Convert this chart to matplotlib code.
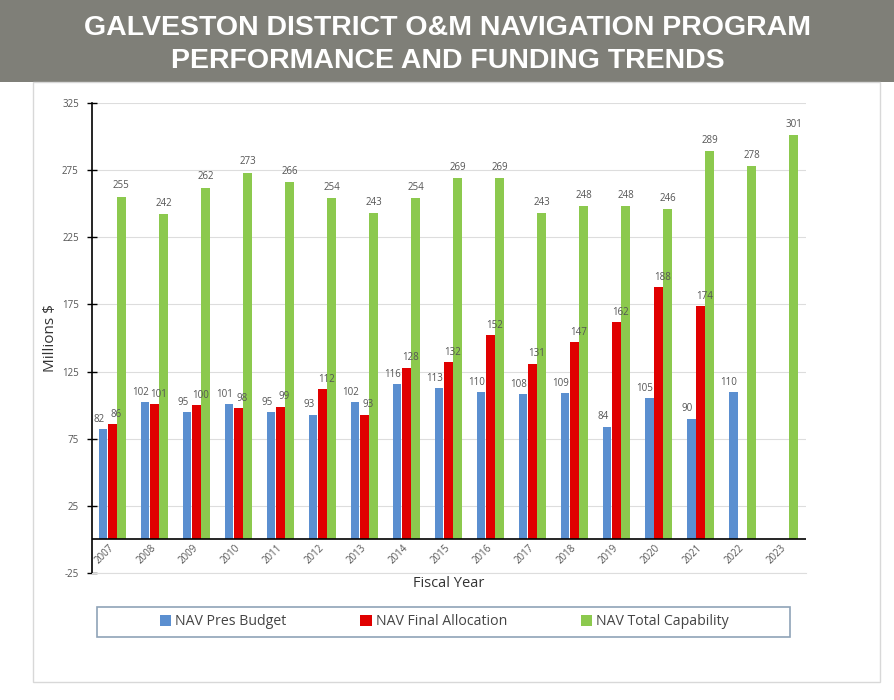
import matplotlib
matplotlib.use("Agg")
import matplotlib.pyplot as plt
import numpy as np
from matplotlib.patches import Rectangle

years = ["2007", "2008", "2009", "2010", "2011", "2012", "2013", "2014", "2015",
         "2016", "2017", "2018", "2019", "2020", "2021", "2022", "2023"]
pres_budget = [82, 102, 95, 101, 95, 93, 102, 116, 113, 110, 108, 109, 84, 105, 90, 110, None]
final_alloc = [86, 101, 100, 98, 99, 112, 93, 128, 132, 152, 131, 147, 162, 188, 174, None, None]
total_cap = [255, 242, 262, 273, 266, 254, 243, 254, 269, 269, 243, 248, 248, 246, 289, 278, 301]
yticks = [-25, 25, 75, 125, 175, 225, 275, 325]

c_blue = "#5b8fd0"
c_red = "#e00000"
c_green = "#8cc94e"
txt_gray = "#555555"

fig = plt.figure(figsize=(8.95, 7.0), dpi=100)
fig.patch.set_facecolor("white")

# header band
fig.add_artist(Rectangle((0, 0.883), 1, 0.117, transform=fig.transFigure,
                         facecolor="#7f7f78", edgecolor="none"))
tfont = dict(color="white", fontsize=20.5, fontweight="bold",
             family=["Liberation Sans Narrow", "Liberation Sans", "DejaVu Sans"])
fig.text(0.5, 0.960, "GALVESTON DISTRICT O&M NAVIGATION PROGRAM", ha="center", va="center", **tfont)
fig.text(0.5, 0.913, "PERFORMANCE AND FUNDING TRENDS", ha="center", va="center", **tfont)

# outer chart frame
fig.add_artist(Rectangle((0.037, 0.026), 0.946, 0.857, transform=fig.transFigure,
                         facecolor="none", edgecolor="#d8d8d8", lw=1))

ax = fig.add_axes([0.1028, 0.1814, 0.798, 0.6714])
x = np.arange(len(years))
w = 0.21
offs = [-0.24, -0.02, 0.20]

def vals(v):
    return [np.nan if a is None else a for a in v]

ax.bar(x + offs[0], vals(pres_budget), w, color=c_blue, label="NAV Pres Budget", zorder=3)
ax.bar(x + offs[1], vals(final_alloc), w, color=c_red, label="NAV Final Allocation", zorder=3)
ax.bar(x + offs[2], vals(total_cap), w, color=c_green, label="NAV Total Capability", zorder=3)

lblfont = dict(fontsize=7, color=txt_gray, family=["Open Sans", "DejaVu Sans"])
for i in range(len(years)):
    if pres_budget[i] is not None:
        ax.annotate(str(pres_budget[i]), (x[i] + offs[0], pres_budget[i]),
                    xytext=(-3, 3), textcoords="offset points", ha="center", va="bottom", **lblfont)
    if final_alloc[i] is not None:
        ax.annotate(str(final_alloc[i]), (x[i] + offs[1], final_alloc[i]),
                    xytext=(3, 3), textcoords="offset points", ha="center", va="bottom", **lblfont)
    ax.annotate(str(total_cap[i]), (x[i] + offs[2], total_cap[i]),
                xytext=(0, 4), textcoords="offset points", ha="center", va="bottom", **lblfont)

ax.set_xlim(-0.5, len(years) - 0.5)
ax.set_ylim(-25, 325)
ax.set_yticks(yticks)
ax.set_yticklabels([str(t) for t in yticks], fontsize=7, color=txt_gray,
                   family=["Open Sans", "DejaVu Sans"])
ax.tick_params(axis="y", direction="inout", length=7, width=1, pad=6)
ax.set_xticks([])
ax.grid(axis="y", color="#dddddd", lw=0.8, zorder=0)
ax.axhline(0, color="black", lw=1.2, zorder=4)
for s in ["top", "right"]:
    ax.spines[s].set_visible(False)
ax.spines["bottom"].set_color("#dddddd")
ax.spines["left"].set_color("black")
ax.spines["left"].set_linewidth(1.2)

for i, y in enumerate(years):
    ax.text(x[i] - 0.2, -11, y, rotation=45, ha="center", va="center", fontsize=7,
            color=txt_gray, family=["Open Sans", "DejaVu Sans"])

ax.set_ylabel("Millions $", fontsize=11, color="#333333", labelpad=3,
              family=["Open Sans", "DejaVu Sans"])
ax.set_xlabel("Fiscal Year", fontsize=10.5, color="#333333", labelpad=2,
              family=["Open Sans", "DejaVu Sans"])

# legend frame drawn separately to match its wide box
fig.add_artist(Rectangle((0.1084, 0.090), 0.7743, 0.0429, transform=fig.transFigure,
                         facecolor="white", edgecolor="#8fa3b8", lw=1.2))
leg = fig.legend(loc="center", bbox_to_anchor=(0.4966, 0.1115), ncol=3, frameon=False,
                 handlelength=0.8, handleheight=0.8, handletextpad=0.3, columnspacing=5.2,
                 prop={"family": ["Open Sans", "DejaVu Sans"], "size": 10.2})
for t in leg.get_texts():
    t.set_color("#444444")

fig.savefig("out.png", dpi=100)
